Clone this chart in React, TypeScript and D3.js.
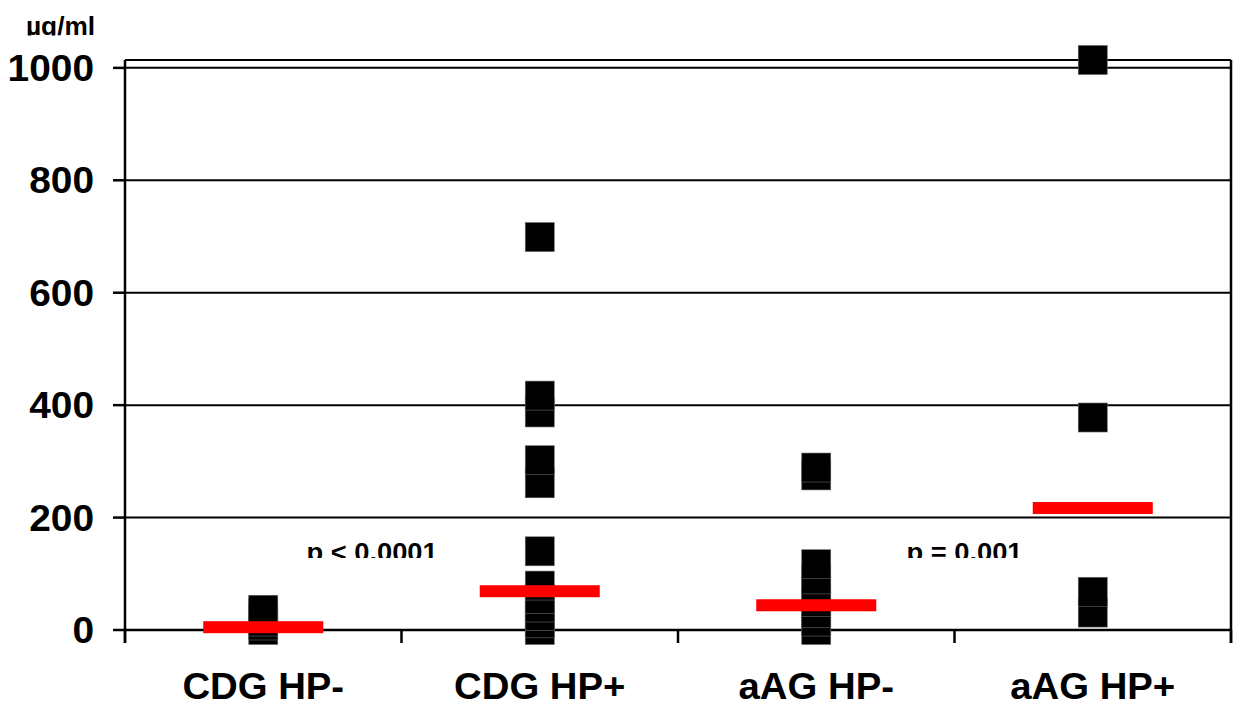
import * as d3 from "d3"

const categories = ["CDG HP-", "CDG HP+", "aAG HP-", "aAG HP+"]
const cdgNeg = [0, 8, 15, 22, 30, 36]
const cdgPos = [0, 12, 25, 40, 55, 79, 140, 261, 302, 387, 417, 699]
const aagNeg = [0, 15, 30, 50, 70, 90, 117, 275, 289]
const aagPos = [31, 68, 378, 1014]
const medians = [5, 69, 44, 217]
const yTicks = [0, 200, 400, 600, 800, 1000]
const pLabels = ["p < 0.0001", "p = 0.001"]

const W = 1237
const H = 704
const left = 125
const right = 1231
const top = 60
const bottom = 630
const font = "'Liberation Sans', Arial, sans-serif"
const stretch = 1.05

// text drawn slightly wider, as in the original slide
const Label = ({ x, y, size, anchor, children, clip }: any) => (
  <g clipPath={clip}>
    <text
      transform={`translate(${x},${y}) scale(${stretch},1)`}
      textAnchor={anchor || "start"}
      fontSize={size}
    >
      {children}
    </text>
  </g>
)

const App = () => {
  const groups = [cdgNeg, cdgPos, aagNeg, aagPos]
  const x = d3.scaleBand().domain(categories).range([left, right])
  const y = d3.scaleLinear().domain([0, 1014]).range([bottom, top])
  const cx = (c: string) => (x(c) || 0) + x.bandwidth() / 2
  const sq = 29
  const bounds = d3.range(categories.length + 1).map((i) => left + i * x.bandwidth())
  const pPos = [bounds[1] - 95, bounds[3] - 48]

  return (
    <svg
      width={W}
      height={H}
      style={{ position: "absolute", left: 0, top: 0, background: "#fff" }}
      fontFamily={font}
      fontWeight="bold"
    >
      <defs>
        <clipPath id="unitClip">
          <rect x={0} y={0} width={120} height={35.5} />
        </clipPath>
        <clipPath id="pClip">
          <rect x={0} y={500} width={W} height={58} />
        </clipPath>
      </defs>

      {/* gridlines */}
      {yTicks.slice(1).map((t) => (
        <line key={t} x1={left} x2={right} y1={y(t)} y2={y(t)} stroke="#000" strokeWidth={2} />
      ))}
      {/* frame top/right */}
      <line x1={left} x2={right} y1={top} y2={top} stroke="#000" strokeWidth={2} />
      <line x1={right} x2={right} y1={top} y2={bottom + 13} stroke="#000" strokeWidth={2.5} />

      {/* y axis */}
      <line x1={left} x2={left} y1={top} y2={bottom + 13} stroke="#000" strokeWidth={2.5} />
      {yTicks.map((t) => (
        <g key={t}>
          <line x1={113} x2={left} y1={y(t)} y2={y(t)} stroke="#000" strokeWidth={2.5} />
          <Label x={94} y={y(t) + 13} size={37} anchor="end">
            {t}
          </Label>
        </g>
      ))}
      <Label x={26} y={35} size={25} clip="url(#unitClip)">
        µg/ml
      </Label>

      {/* x axis */}
      <line x1={left} x2={right} y1={bottom} y2={bottom} stroke="#000" strokeWidth={2.5} />
      {bounds.map((b, i) => (
        <line key={i} x1={b} x2={b} y1={bottom} y2={bottom + 13} stroke="#000" strokeWidth={2.5} />
      ))}
      {categories.map((c) => (
        <Label key={c} x={cx(c)} y={699} size={36.5} anchor="middle">
          {c}
        </Label>
      ))}

      {/* points */}
      {groups.map((vals, i) =>
        vals.map((v, j) => (
          <rect
            key={`${i}-${j}`}
            x={cx(categories[i]) - sq / 2}
            y={y(v) - sq / 2}
            width={sq}
            height={sq}
            fill="#000"
            stroke="#666"
            strokeWidth={0.6}
          />
        ))
      )}

      {/* medians */}
      {medians.map((m, i) => (
        <rect
          key={i}
          x={cx(categories[i]) - 60}
          y={y(m) - 6}
          width={120}
          height={12}
          fill="#ff0000"
        />
      ))}

      {/* p values */}
      {pLabels.map((p, i) => (
        <Label key={p} x={pPos[i]} y={561} size={26} clip="url(#pClip)">
          {p}
        </Label>
      ))}
    </svg>
  )
}

export default App
